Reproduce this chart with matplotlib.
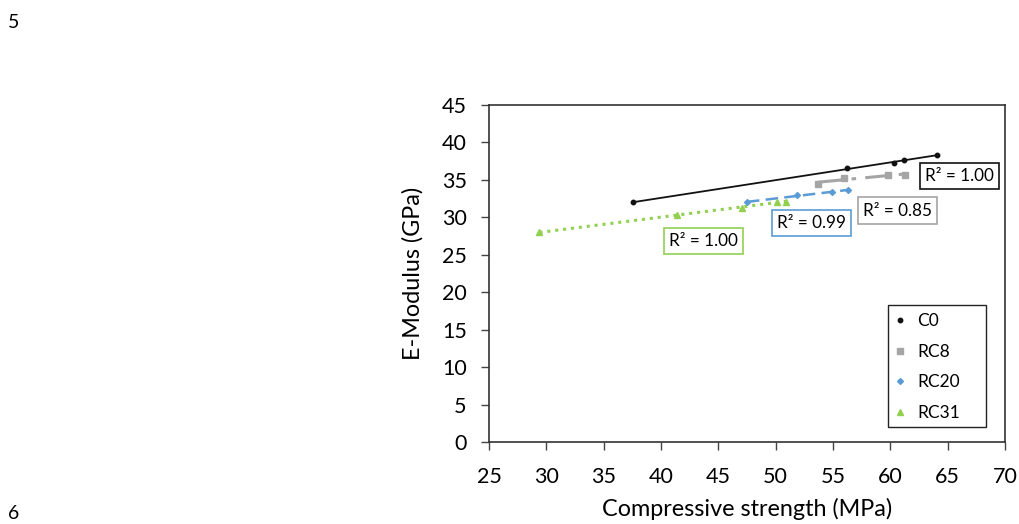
import numpy as np
import matplotlib
matplotlib.use("Agg")
import matplotlib.pyplot as plt
from matplotlib.patches import Rectangle

plt.rcParams['font.family'] = ['Lato', 'DejaVu Sans']

# Data
series_names = ["C0", "RC8", "RC20", "RC31"]
c0_x = [37.6, 56.2, 60.3, 61.2, 64.1]
c0_y = [32.0, 36.6, 37.3, 37.6, 38.3]
rc8_x = [53.7, 56.0, 59.8, 61.3]
rc8_y = [34.5, 35.3, 35.6, 35.7]
rc20_x = [47.5, 51.9, 54.9, 56.3]
rc20_y = [32.0, 33.0, 33.4, 33.6]
rc31_x = [29.4, 41.4, 47.1, 50.1, 50.9]
rc31_y = [28.0, 30.3, 31.3, 32.1, 32.1]
r2_labels = ["R² = 1.00", "R² = 0.85", "R² = 0.99", "R² = 1.00"]
label_pos = [(66.0, 35.5), (60.6, 30.9), (53.1, 29.2), (43.7, 26.8)]

xs = [c0_x, rc8_x, rc20_x, rc31_x]
ys = [c0_y, rc8_y, rc20_y, rc31_y]
colors = ["#111111", "#a5a5a5", "#5b9bd5", "#92d050"]
markers = ["o", "s", "D", "^"]
msizes = [3.2, 4.0, 3.0, 4.2]
lstyles = ["-", (0, (8, 3, 1.5, 3)), (0, (5, 2.5)), (0, (1, 1.6))]
lwidths = [1.3, 2.2, 1.8, 2.2]
box_edges = ["#111111", "#a5a5a5", "#5b9bd5", "#92d050"]

fig = plt.figure(figsize=(10.2, 5.24), dpi=100)
ax = fig.add_axes([0.4794, 0.1565, 0.5059, 0.6431])

for name, x, y, c, m, ms, ls, lw in zip(series_names, xs, ys, colors, markers, msizes, lstyles, lwidths):
    x = np.array(x); y = np.array(y)
    k, b = np.polyfit(x, y, 1)
    xl = np.array([x.min(), x.max()])
    ax.plot(xl, k * xl + b, color=c, linestyle=ls, linewidth=lw, zorder=2)
    ax.plot(x, y, linestyle='none', marker=m, color=c, markersize=ms, label=name, zorder=3)

for lab, (px, py), ec in zip(r2_labels, label_pos, box_edges):
    ax.text(px, py, lab, ha='center', va='center', fontsize=12.3,
            bbox=dict(boxstyle='square,pad=0.3', facecolor='white', edgecolor=ec, linewidth=1.2),
            zorder=5)

ax.set_xlim(25, 70)
ax.set_ylim(0, 45)
ax.set_xticks(np.arange(25, 71, 5))
ax.set_yticks(np.arange(0, 46, 5))
ax.tick_params(axis='both', labelsize=15.5, length=6, width=1, color='#444444', direction='out')
ax.tick_params(axis='x', pad=12)
ax.tick_params(axis='y', pad=10)
for s in ax.spines.values():
    s.set_color('#333333')
    s.set_linewidth(1.2)

ax.set_xlabel("Compressive strength (MPa)", fontsize=16.8, labelpad=8)
ax.set_ylabel("E-Modulus (GPa)", fontsize=16.8, labelpad=13)

# legend frame drawn separately for exact padding
ax.add_patch(Rectangle((0.773, 0.0445), 0.190, 0.362, transform=ax.transAxes,
                       facecolor='white', edgecolor='#222222', linewidth=1.0, zorder=6))
leg = ax.legend(loc='upper left', bbox_to_anchor=(0.783, 0.383), fontsize=12.5,
                frameon=False, borderpad=0, labelspacing=0.85, handlelength=0.8,
                handletextpad=0.6, markerscale=1.0, borderaxespad=0)
leg.set_zorder(7)

fig.text(0.008, 0.958, "5", fontsize=14, ha='left', va='center')
fig.text(0.008, 0.003, "6", fontsize=14, ha='left', va='bottom')

fig.savefig("out.png", dpi=100)
